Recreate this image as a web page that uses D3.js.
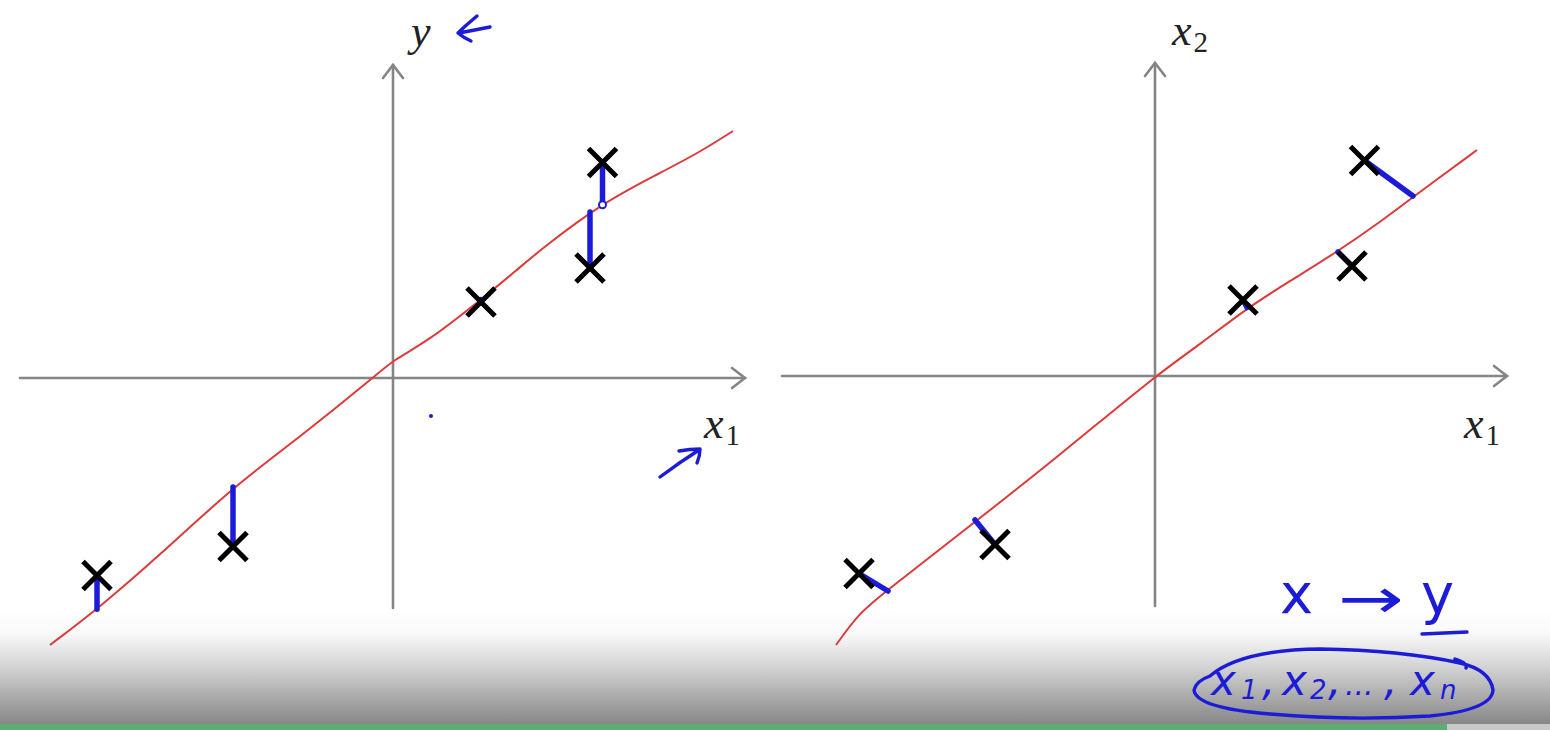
<!DOCTYPE html>
<html><head><meta charset="utf-8">
<script src="https://cdn.jsdelivr.net/npm/d3@7"></script>
<style>html,body{margin:0;padding:0;background:#fff;overflow:hidden}svg{display:block}</style>
</head><body>
<svg id="chart" width="1550" height="730"></svg>
<script>
// ---- data (abstract units, origin at axes crossing) ----
const pointsX1 = [-5.92, -3.2, 1.76, 3.94, 4.19];
const pointsX2 = [-3.95, -3.37, 1.52, 2.2, 4.31];
// left panel: regression fit curve (hand-drawn)
const fitX = [-6.86, -5.86, -4.66, -3.2, -1.86, -0.4, 0.0, 0.68, 1.8, 2.48, 2.94, 4.18, 5.34, 6.14, 6.8];
const fitY = [-5.34, -4.58, -3.54, -2.18, -1.18, 0.0, 0.36, 0.72, 1.6, 2.16, 2.56, 3.5, 4.1, 4.52, 4.94];
// right panel: principal direction line
const pcaX = [-6.38, -5.9, -5.4, -3.6, -1.9, 0.0, 0.9, 1.84, 2.7, 3.64, 4.56, 5.16, 6.44];
const pcaY = [-5.38, -4.72, -4.32, -2.92, -1.58, 0.0, 0.63, 1.36, 1.9, 2.48, 3.12, 3.58, 4.52];
// right panel: hand-drawn projection feet on the line
const footX = [-5.34, -3.6, 1.84, 3.66, 5.16];
const footY = [-4.3, -2.88, 1.37, 2.48, 3.6];
const axisX = [-7.46, 7.04];
const axisY = [-4.6, 6.26];
const leftLabels = ["y", "x", "1"];
const rightLabels = ["x", "2", "x", "1"];
const noteTop = ["x", "→", "y"];
const noteBottom = ["x", "1", ",", "x", "2", ",", "...", ",", "x", "n"];

const svg = d3.select("#chart");
const GRAY = "#858585", RED = "#dd3a3a", BLUE = "#1c1cd8";

function panel(ox, oy, lineX, lineY, mode) {
  const x = d3.scaleLinear().domain([-8, 8]).range([ox - 400, ox + 400]);
  const y = d3.scaleLinear().domain([-6, 6]).range([oy + 300, oy - 300]);
  const g = svg.append("g");
  const ax = g.append("g").attr("stroke", GRAY).attr("stroke-width", 2.6).attr("fill", "none").attr("stroke-linecap", "round");
  ax.append("line").attr("x1", x(axisX[0])).attr("x2", x(axisX[1])).attr("y1", y(0)).attr("y2", y(0));
  ax.append("line").attr("x1", x(0)).attr("x2", x(0)).attr("y1", y(axisY[0])).attr("y2", y(axisY[1]));
  const tx = x(axisX[1]), ty = y(axisY[1]);
  ax.append("path").attr("d", `M${tx-13},${y(0)-10}L${tx},${y(0)}L${tx-13},${y(0)+10}`);
  ax.append("path").attr("d", `M${x(0)-10},${ty+13}L${x(0)},${ty}L${x(0)+10},${ty+13}`);
  const pts = lineX.map((v, i) => [v, lineY[i]]);
  const lineGen = d3.line().x(d => x(d[0])).y(d => y(d[1])).curve(d3.curveBasis);
  g.append("path").attr("d", lineGen(pts)).attr("fill", "none").attr("stroke", RED).attr("stroke-width", 2);
  const interp = d3.scaleLinear().domain(lineX).range(lineY);
  const feet = pointsX1.map((px, i) => mode === "vertical" ? [px, interp(px)] : [footX[i], footY[i]]);
  g.append("g").selectAll("line").data(pointsX1).join("line")
    .attr("x1", (d) => x(d)).attr("y1", (d, i) => y(pointsX2[i]))
    .attr("x2", (d, i) => x(feet[i][0])).attr("y2", (d, i) => y(feet[i][1]))
    .attr("stroke", BLUE).attr("stroke-width", 5.5).attr("stroke-linecap", "round");
  const s = 14;
  const mk = g.append("g").attr("stroke", "#000").attr("stroke-width", 5).attr("stroke-linecap", "butt");
  pointsX1.forEach((d, i) => {
    const cx = x(d), cy = y(pointsX2[i]);
    mk.append("path").attr("d", `M${cx-s},${cy-s}L${cx+s},${cy+s}M${cx+s},${cy-s}L${cx-s},${cy+s}`);
  });
  return {x, y, feet};
}

const L = panel(393, 378, fitX, fitY, "vertical");
const R = panel(1155, 376, pcaX, pcaY, "hand");

svg.append("circle").attr("cx", L.x(L.feet[4][0])).attr("cy", L.y(L.feet[4][1]) + 2).attr("r", 3.5)
  .attr("fill", "#fff").attr("stroke", BLUE).attr("stroke-width", 2);

const serif = "'Liberation Serif','DejaVu Serif',serif";
function mathLabel(xp, yp, base, sub) {
  const t = svg.append("text").attr("x", xp).attr("y", yp).attr("font-family", serif).attr("font-size", 44).attr("fill", "#222");
  t.append("tspan").attr("font-style", "italic").text(base);
  if (sub) t.append("tspan").attr("dx", 2).attr("dy", 7).attr("font-size", 29).text(sub);
}
mathLabel(411, 46, leftLabels[0]);
mathLabel(704, 438, leftLabels[1], leftLabels[2]);
mathLabel(1172, 45, rightLabels[0], rightLabels[1]);
mathLabel(1464, 438, rightLabels[2], rightLabels[3]);

const defs = svg.append("defs");
const grad = defs.append("linearGradient").attr("id", "fade").attr("x1", 0).attr("x2", 0).attr("y1", 0).attr("y2", 1);
[[0, 0], [0.2, 0.04], [0.5, 0.33], [0.8, 0.68], [1, 0.9]].forEach(([o, a]) =>
  grad.append("stop").attr("offset", o).attr("stop-color", "#7a7a7a").attr("stop-opacity", a));
svg.append("rect").attr("x", 0).attr("y", 610).attr("width", 1550).attr("height", 114).attr("fill", "url(#fade)");
svg.append("rect").attr("x", 0).attr("y", 724).attr("width", 1447).attr("height", 6).attr("fill", "#5bad71");
svg.append("rect").attr("x", 1447).attr("y", 724).attr("width", 103).attr("height", 6).attr("fill", "#c8c8c8");

const ink = svg.append("g").attr("fill", "none").attr("stroke", BLUE).attr("stroke-width", 3.4)
  .attr("stroke-linecap", "round").attr("stroke-linejoin", "round");
ink.append("path").attr("d", "M477,16 Q466,25 458,33 Q464,38 471,41 M459,33 Q475,30 490,27");
ink.append("path").attr("d", "M660,477 Q680,462 699,450 M679,451 Q690,449 700,449 Q700,456 697,463");
svg.append("circle").attr("cx", 431).attr("cy", 416).attr("r", 2).attr("fill", BLUE);
ink.append("path").attr("d", "M1422,634 Q1445,633 1467,632");
ink.append("path").attr("d", "M1210,676 Q1196,681 1194,690 Q1196,708 1270,714 Q1350,721 1430,716 Q1492,710 1493,690 Q1490,670 1460,663 Q1400,650 1320,649 Q1240,650 1210,676 M1455,659 Q1468,663 1466,668");
const hand = "'DejaVu Sans','Noto Sans',sans-serif";
const noteA = svg.append("g").attr("font-family", hand).attr("fill", BLUE);
noteA.append("text").attr("x", 1280).attr("y", 613).attr("font-size", 56).text(noteTop[0]);
noteA.append("text").attr("x", 1338).attr("y", 618).attr("font-size", 56)
  .attr("textLength", 66).attr("lengthAdjust", "spacingAndGlyphs").text(noteTop[1]);
noteA.append("text").attr("x", 1421).attr("y", 613).attr("font-size", 56).text(noteTop[2]);
const bx = [1211, 1241, 1262, 1282, 1310, 1328, 1345, 1384, 1410, 1440];
const bs = [42, 26, 42, 42, 26, 42, 30, 42, 42, 26];
const noteB = svg.append("g").attr("font-family", hand).attr("font-style", "italic").attr("fill", BLUE);
noteBottom.forEach((s, i) => {
  noteB.append("text").attr("x", bx[i]).attr("y", bs[i] === 26 ? 699 : 695)
    .attr("font-size", bs[i]).text(s);
});
</script>
</body></html>
